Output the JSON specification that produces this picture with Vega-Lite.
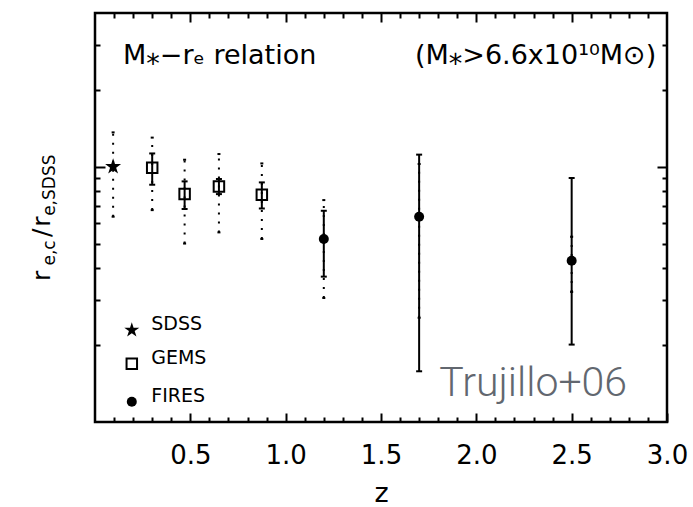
{
  "$schema": "https://vega.github.io/schema/vega-lite/v6.json",
  "width": 572,
  "height": 409,
  "autosize": {"type": "none"},
  "padding": {"left": 95, "top": 13, "right": 26, "bottom": 85},
  "background": "white",
  "datasets": {
    "pts": [
      {"survey": "SDSS", "z": 0.095, "r": 1.0, "lo": 1.0, "hi": 1.0, "dlo": 0.637, "dhi": 1.363},
      {"survey": "GEMS", "z": 0.30, "r": 0.99, "lo": 0.85, "hi": 1.127, "dlo": 0.676, "dhi": 1.30},
      {"survey": "GEMS", "z": 0.47, "r": 0.781, "lo": 0.683, "hi": 0.876, "dlo": 0.50, "dhi": 1.065},
      {"survey": "GEMS", "z": 0.65, "r": 0.837, "lo": 0.781, "hi": 0.895, "dlo": 0.553, "dhi": 1.121},
      {"survey": "GEMS", "z": 0.875, "r": 0.777, "lo": 0.686, "hi": 0.868, "dlo": 0.521, "dhi": 1.03},
      {"survey": "FIRES", "z": 1.20, "r": 0.521, "lo": 0.371, "hi": 0.672, "dlo": 0.306, "dhi": 0.74},
      {"survey": "FIRES", "z": 1.70, "r": 0.637, "lo": 0.158, "hi": 1.115, "dlo": 0.256, "dhi": 1.025},
      {"survey": "FIRES", "z": 2.50, "r": 0.428, "lo": 0.201, "hi": 0.903, "dlo": 0.323, "dhi": 0.532}
    ],
    "key": [
      {"survey": "SDSS", "z": 0.193, "r": 0.229, "lz": 0.295},
      {"survey": "GEMS", "z": 0.193, "r": 0.169, "lz": 0.295},
      {"survey": "FIRES", "z": 0.193, "r": 0.12, "lz": 0.295}
    ],
    "notes": [
      {"t": "M⁎−rₑ relation", "z": 0.147, "v": 2.53},
      {"t": "(M⁎>6.6x10¹⁰M⊙)", "z": 1.678, "v": 2.53}
    ],
    "credit": [
      {"t": "Trujillo+06", "z": 1.805, "v": 0.1264}
    ],
    "ytitleMain": [
      {"t": "r", "z": -0.236, "v": 0.357},
      {"t": "/", "z": -0.236, "v": 0.531},
      {"t": "r", "z": -0.236, "v": 0.582}
    ],
    "ytitleSub": [
      {"t": "e,c", "z": -0.21, "v": 0.41},
      {"t": "e,SDSS", "z": -0.21, "v": 0.642}
    ]
  },
  "resolve": {"axis": {"x": "independent", "y": "independent"}},
  "layer": [
    {
      "data": {"name": "pts"},
      "mark": {"type": "rule", "strokeDash": [2, 7], "strokeWidth": 2, "color": "black"},
      "encoding": {
        "x": {
          "field": "z", "type": "quantitative",
          "scale": {"domain": [0, 3], "nice": false, "zero": false},
          "axis": {
            "orient": "bottom",
            "values": [0.5, 1.0, 1.5, 2.0, 2.5, 3.0],
            "format": ".1f",
            "tickSize": -9,
            "labelFlush": false,
            "labelOverlap": false,
            "labelPadding": 29,
            "labelFontSize": 26,
            "title": "z",
            "titleFontSize": 27,
            "titleFontWeight": "normal",
            "titlePadding": 12
          }
        },
        "y": {
          "field": "dlo", "type": "quantitative",
          "scale": {"type": "log", "domain": [0.1, 4], "nice": false},
          "axis": {"orient": "left", "values": [1], "tickSize": -10, "labels": false, "title": null}
        },
        "y2": {"field": "dhi"}
      }
    },
    {
      "data": {"name": "pts"},
      "mark": {"type": "rule", "strokeWidth": 2, "color": "black"},
      "encoding": {
        "x": {
          "field": "z", "type": "quantitative",
          "axis": {
            "orient": "bottom",
            "values": [0.1,0.2,0.3,0.4,0.6,0.7,0.8,0.9,1.1,1.2,1.3,1.4,1.6,1.7,1.8,1.9,2.1,2.2,2.3,2.4,2.6,2.7,2.8,2.9],
            "tickSize": -5, "labels": false, "title": null
          }
        },
        "y": {
          "field": "lo", "type": "quantitative",
          "axis": {"orient": "left", "values": [0.2,0.3,0.4,0.5,0.6,0.7,0.8,0.9,2,3], "tickSize": -5, "labels": false, "title": null}
        },
        "y2": {"field": "hi"}
      }
    },
    {
      "data": {"name": "pts"},
      "mark": {"type": "point", "shape": "stroke", "size": 9, "strokeWidth": 2, "color": "black", "opacity": 1},
      "encoding": {
        "x": {
          "field": "z", "type": "quantitative",
          "axis": {"orient": "top", "values": [0.5, 1.0, 1.5, 2.0, 2.5], "tickSize": -9, "labels": false, "title": null}
        },
        "y": {
          "field": "dlo", "type": "quantitative",
          "axis": {"orient": "right", "values": [1], "tickSize": -10, "labels": false, "title": null}
        }
      }
    },
    {
      "data": {"name": "pts"},
      "mark": {"type": "point", "shape": "stroke", "size": 9, "strokeWidth": 2, "color": "black", "opacity": 1},
      "encoding": {
        "x": {
          "field": "z", "type": "quantitative",
          "axis": {
            "orient": "top",
            "values": [0.1,0.2,0.3,0.4,0.6,0.7,0.8,0.9,1.1,1.2,1.3,1.4,1.6,1.7,1.8,1.9,2.1,2.2,2.3,2.4,2.6,2.7,2.8,2.9],
            "tickSize": -5, "labels": false, "title": null
          }
        },
        "y": {
          "field": "dhi", "type": "quantitative",
          "axis": {"orient": "right", "values": [0.2,0.3,0.4,0.5,0.6,0.7,0.8,0.9,2,3], "tickSize": -5, "labels": false, "title": null}
        }
      }
    },
    {
      "data": {"name": "pts"},
      "transform": [{"filter": "datum.survey != 'SDSS'"}],
      "mark": {"type": "point", "shape": "stroke", "size": 36, "strokeWidth": 2, "color": "black", "opacity": 1},
      "encoding": {
        "x": {"field": "z", "type": "quantitative", "axis": null},
        "y": {"field": "lo", "type": "quantitative", "axis": null}
      }
    },
    {
      "data": {"name": "pts"},
      "transform": [{"filter": "datum.survey != 'SDSS'"}],
      "mark": {"type": "point", "shape": "stroke", "size": 36, "strokeWidth": 2, "color": "black", "opacity": 1},
      "encoding": {
        "x": {"field": "z", "type": "quantitative", "axis": null},
        "y": {"field": "hi", "type": "quantitative", "axis": null}
      }
    },
    {
      "data": {"name": "pts"},
      "transform": [{"filter": "datum.survey == 'SDSS'"}],
      "mark": {"type": "point", "shape": "M0,-1L0.2245,-0.309L0.951,-0.309L0.3633,0.118L0.588,0.809L0,0.382L-0.588,0.809L-0.3633,0.118L-0.951,-0.309L-0.2245,-0.309Z", "filled": true, "color": "black", "size": 280, "opacity": 1},
      "encoding": {
        "x": {"field": "z", "type": "quantitative", "axis": null},
        "y": {"field": "r", "type": "quantitative", "axis": null}
      }
    },
    {
      "data": {"name": "pts"},
      "transform": [{"filter": "datum.survey == 'GEMS'"}],
      "mark": {"type": "point", "shape": "square", "filled": false, "color": "black", "strokeWidth": 2, "size": 110, "opacity": 1},
      "encoding": {
        "x": {"field": "z", "type": "quantitative", "axis": null},
        "y": {"field": "r", "type": "quantitative", "axis": null}
      }
    },
    {
      "data": {"name": "pts"},
      "transform": [{"filter": "datum.survey == 'FIRES'"}],
      "mark": {"type": "point", "shape": "circle", "filled": true, "color": "black", "size": 100, "opacity": 1},
      "encoding": {
        "x": {"field": "z", "type": "quantitative", "axis": null},
        "y": {"field": "r", "type": "quantitative", "axis": null}
      }
    },
    {
      "data": {"name": "key"},
      "transform": [{"filter": "datum.survey == 'SDSS'"}],
      "mark": {"type": "point", "shape": "M0,-1L0.2245,-0.309L0.951,-0.309L0.3633,0.118L0.588,0.809L0,0.382L-0.588,0.809L-0.3633,0.118L-0.951,-0.309L-0.2245,-0.309Z", "filled": true, "color": "black", "size": 250, "opacity": 1},
      "encoding": {
        "x": {"field": "z", "type": "quantitative", "axis": null},
        "y": {"field": "r", "type": "quantitative", "axis": null}
      }
    },
    {
      "data": {"name": "key"},
      "transform": [{"filter": "datum.survey == 'GEMS'"}],
      "mark": {"type": "point", "shape": "square", "filled": false, "color": "black", "strokeWidth": 2, "size": 110, "opacity": 1},
      "encoding": {
        "x": {"field": "z", "type": "quantitative", "axis": null},
        "y": {"field": "r", "type": "quantitative", "axis": null}
      }
    },
    {
      "data": {"name": "key"},
      "transform": [{"filter": "datum.survey == 'FIRES'"}],
      "mark": {"type": "point", "shape": "circle", "filled": true, "color": "black", "size": 100, "opacity": 1},
      "encoding": {
        "x": {"field": "z", "type": "quantitative", "axis": null},
        "y": {"field": "r", "type": "quantitative", "axis": null}
      }
    },
    {
      "data": {"name": "key"},
      "mark": {"type": "text", "align": "left", "baseline": "alphabetic", "font": "DejaVu Sans", "fontSize": 19, "color": "black"},
      "encoding": {
        "x": {"field": "lz", "type": "quantitative", "axis": null},
        "y": {"field": "r", "type": "quantitative", "axis": null},
        "text": {"field": "survey"}
      }
    },
    {
      "data": {"name": "notes"},
      "mark": {"type": "text", "align": "left", "baseline": "alphabetic", "font": "DejaVu Sans", "fontSize": 27, "color": "black"},
      "encoding": {
        "x": {"field": "z", "type": "quantitative", "axis": null},
        "y": {"field": "v", "type": "quantitative", "axis": null},
        "text": {"field": "t"}
      }
    },
    {
      "data": {"name": "credit"},
      "mark": {"type": "text", "align": "left", "baseline": "alphabetic", "font": "Roboto", "fontWeight": 300, "fontSize": 41, "color": "#62676f"},
      "encoding": {
        "x": {"field": "z", "type": "quantitative", "axis": null},
        "y": {"field": "v", "type": "quantitative", "axis": null},
        "text": {"field": "t"}
      }
    },
    {
      "data": {"name": "ytitleMain"},
      "mark": {"type": "text", "align": "left", "baseline": "alphabetic", "angle": 270, "font": "DejaVu Sans", "fontSize": 25, "color": "black"},
      "encoding": {
        "x": {"field": "z", "type": "quantitative", "axis": null},
        "y": {"field": "v", "type": "quantitative", "axis": null},
        "text": {"field": "t"}
      }
    },
    {
      "data": {"name": "ytitleSub"},
      "mark": {"type": "text", "align": "left", "baseline": "alphabetic", "angle": 270, "font": "DejaVu Sans", "fontSize": 17, "color": "black"},
      "encoding": {
        "x": {"field": "z", "type": "quantitative", "axis": null},
        "y": {"field": "v", "type": "quantitative", "axis": null},
        "text": {"field": "t"}
      }
    }
  ],
  "config": {
    "font": "DejaVu Sans",
    "view": {"stroke": "black", "strokeWidth": 2.5},
    "axis": {
      "grid": false,
      "domain": false,
      "tickColor": "black",
      "tickWidth": 2,
      "labelFont": "DejaVu Sans",
      "labelColor": "black",
      "titleFont": "DejaVu Sans",
      "titleColor": "black"
    }
  }
}
